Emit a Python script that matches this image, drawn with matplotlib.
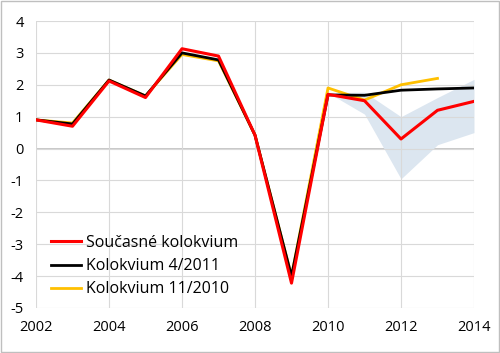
import matplotlib.pyplot as plt

years = list(range(2002, 2015))
soucasne = [0.9, 0.7, 2.12, 1.6, 3.13, 2.9, 0.42, -4.22, 1.7, 1.5, 0.3, 1.2, 1.48]
kolok_4_2011 = [0.9, 0.77, 2.15, 1.65, 3.0, 2.78, 0.42, -4.0, 1.68, 1.67, 1.83, 1.87, 1.9]
years_11_2010 = list(range(2002, 2014))
kolok_11_2010 = [0.9, 0.8, 2.15, 1.65, 2.95, 2.75, 0.42, -4.0, 1.9, 1.52, 2.0, 2.2]

band_years = [2010, 2011, 2012, 2013, 2014]
band_low = [1.75, 1.08, -0.95, 0.12, 0.5]
band_high = [1.75, 1.77, 1.0, 1.6, 2.17]

plt.rcParams['font.family'] = ['Open Sans', 'DejaVu Sans']
plt.rcParams['axes.unicode_minus'] = False

fig = plt.figure(figsize=(5, 3.53), dpi=100)
ax = fig.add_axes([0.072, 0.1275, 0.876, 0.813])

ax.fill_between(band_years, band_low, band_high, color='#dce6f0', lw=0, zorder=1)
ax.plot(years_11_2010, kolok_11_2010, color='#ffc000', lw=2, zorder=3, label='Kolokvium 11/2010')
ax.plot(years, kolok_4_2011, color='black', lw=2, zorder=4, label='Kolokvium 4/2011')
ax.plot(years, soucasne, color='#ff0000', lw=2.2, zorder=5, label='Současné kolokvium')

ax.set_xlim(2002, 2014)
ax.set_ylim(-5, 4)
ax.set_xticks(range(2002, 2015, 2))
ax.set_yticks(range(-5, 5))
ax.grid(True, color='#d9d9d9', lw=0.8, zorder=0)
ax.axhline(0, color='#bfbfbf', lw=1.2, zorder=0.5)
for s in ax.spines.values():
    s.set_visible(False)
ax.tick_params(length=0, labelsize=10.5)
ax.tick_params(axis='x', pad=9)
ax.tick_params(axis='y', pad=9)

h, l = ax.get_legend_handles_labels()
ax.legend(h[::-1], l[::-1], loc='lower left', bbox_to_anchor=(0.02, 0.015), frameon=False,
          fontsize=11.5, handlelength=1.9, handletextpad=0.3, labelspacing=0.45,
          borderaxespad=0)

fig.patches.append(plt.Rectangle((0.002, 0.003), 0.996, 0.994, transform=fig.transFigure,
                                 fill=False, edgecolor='#bfbfbf', lw=1))
fig.savefig('out.png', dpi=100)
